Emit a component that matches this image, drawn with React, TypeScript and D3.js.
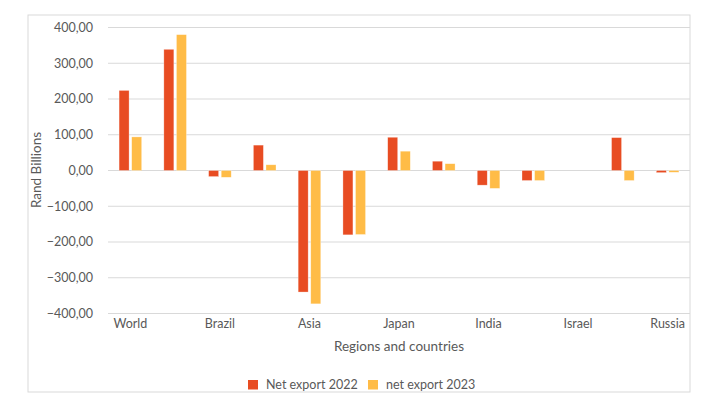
import React from "react";
import * as d3 from "d3";

const categories = ["World", "Africa", "Brazil", "Europe", "Asia", "China", "Japan", "USA", "India", "Saudi Arabia", "Israel", "UK", "Russia"];
const shownLabels = ["World", "", "Brazil", "", "Asia", "", "Japan", "", "India", "", "Israel", "", "Russia"];
const netExport2022 = [224, 339, -17, 71, -340, -180, 93, 26, -41, -28, 0, 92, -6];
const netExport2023 = [94, 380, -19, 16, -373, -179, 54, 19, -50, -28, 0, -28, -5];
const yTicks = [-400, -300, -200, -100, 0, 100, 200, 300, 400];
const seriesNames = ["Net export 2022", "net export 2023"];
const seriesColors = ["#E84C22", "#FFBC47"];

const W = 720, H = 420;
const plot = { left: 108, right: 690, top: 27.5, bottom: 313.5 };
const FONT = "Lato, 'Open Sans', sans-serif";

export default function App() {
  const x = d3.scaleBand<string>().domain(categories).range([plot.left, plot.right]).paddingInner(0).paddingOuter(0);
  const y = d3.scaleLinear().domain([-400, 400]).range([plot.bottom, plot.top]);
  const barW = 10;
  const gap = 2.6;
  const fmt = (v: number) => d3.format(".2f")(v).replace(".", ",").replace("-", "-");
  const series = [netExport2022, netExport2023];

  return (
    <svg width={W} height={H} style={{ position: "absolute", left: 0, top: 0, background: "#fff" }}>
      <rect x={28} y={15} width={662} height={377} fill="#fff" stroke="#d9d9d9" strokeWidth={1} />
      {yTicks.map((t) => (
        <g key={t}>
          <line x1={plot.left} x2={plot.right} y1={y(t)} y2={y(t)} stroke="#d9d9d9" strokeWidth={1.2} />
          <text x={93} y={y(t)} dy="0.35em" textAnchor="end" fontFamily={FONT} fontSize={12.5} fill="#595959">
            {fmt(t)}
          </text>
        </g>
      ))}
      {categories.map((c, i) => {
        const cx = (x(c) as number) + x.bandwidth() / 2;
        return (
          <g key={c}>
            {series.map((s, k) => {
              const v = s[i];
              const bx = k === 0 ? cx - gap / 2 - barW : cx + gap / 2;
              const y0 = y(0), y1 = y(v);
              return (
                <rect key={k} x={bx} y={Math.min(y0, y1)} width={barW} height={Math.abs(y1 - y0)}
                  fill={seriesColors[k]} stroke="#fff" strokeOpacity={0.5} strokeWidth={0.6} />
              );
            })}
            {shownLabels[i] && (
              <text x={cx} y={328} textAnchor="middle" fontFamily={FONT} fontSize={12.5} fill="#595959">
                {shownLabels[i]}
              </text>
            )}
          </g>
        );
      })}
      <text transform={`translate(41,170) rotate(-90)`} textAnchor="middle" fontFamily={FONT} fontSize={13.5} fill="#595959">
        Rand Billions
      </text>
      <text x={399} y={351} textAnchor="middle" fontFamily={FONT} fontSize={13.5} fill="#595959">
        Regions and countries
      </text>
      {seriesNames.map((n, k) => {
        const lx = k === 0 ? 248 : 368;
        return (
          <g key={n}>
            <rect x={lx} y={380} width={10} height={9.5} fill={seriesColors[k]} />
            <text x={lx + 18} y={388.5} fontFamily={FONT} fontSize={12.5} fill="#595959">{n}</text>
          </g>
        );
      })}
    </svg>
  );
}
